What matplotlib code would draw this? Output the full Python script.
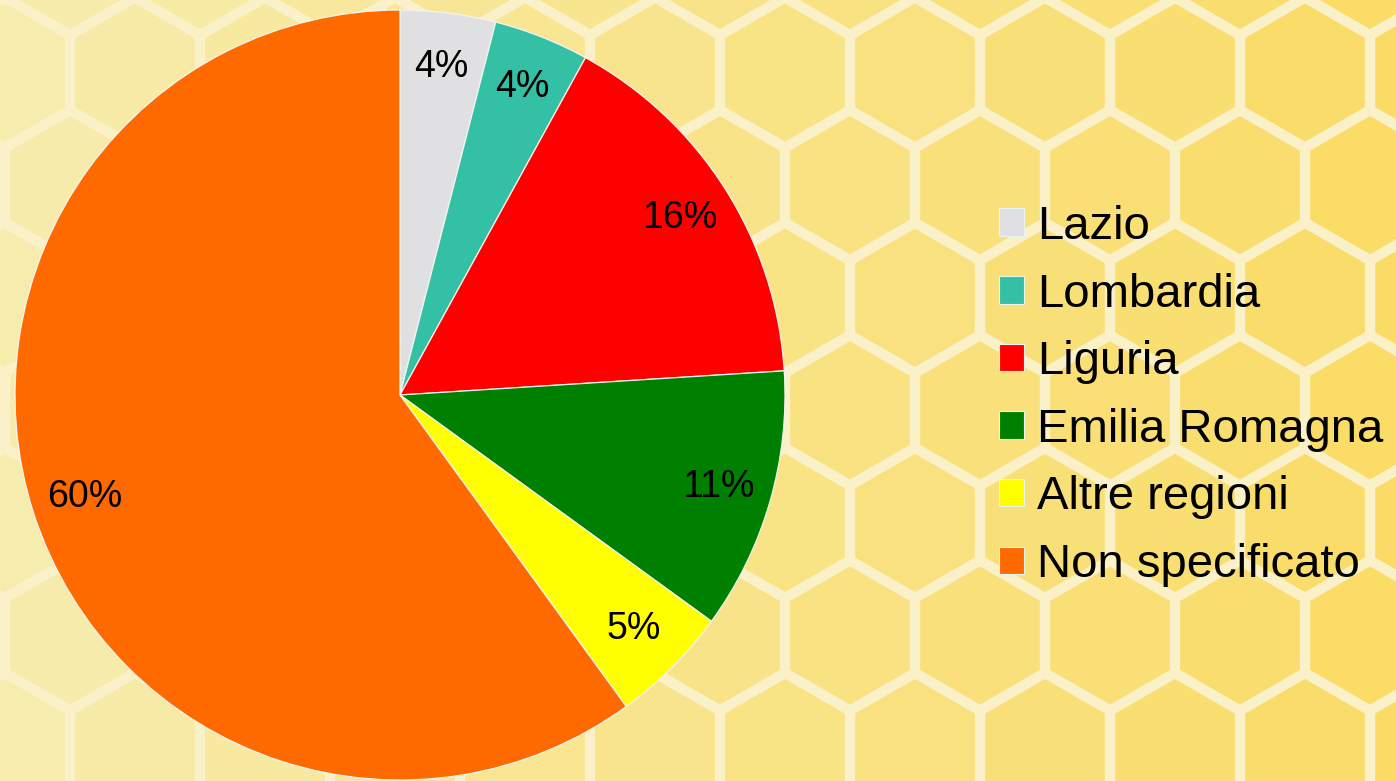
import numpy as np
import matplotlib.pyplot as plt
from matplotlib.patches import Patch, RegularPolygon

plt.rcParams["font.family"] = ["Liberation Sans", "DejaVu Sans"]

regioni = ["Lazio", "Lombardia", "Liguria", "Emilia Romagna", "Altre regioni", "Non specificato"]
percentuali = [4, 4, 16, 11, 5, 60]
colori = ["#e0e0e2", "#33c0a4", "#ff0000", "#008000", "#ffff00", "#ff6a00"]

W, H = 1396, 781
fig = plt.figure(figsize=(W / 100, H / 100), dpi=100, facecolor="#fbeeb8")

# sfondo a nido d'ape (solo decorativo)
bg = fig.add_axes([0, 0, 1, 1])
bg.set_xlim(0, W)
bg.set_ylim(H, 0)
bg.axis("off")
bg.add_patch(plt.Rectangle((0, 0), W, H, color="#fbf1c8", zorder=0))
passo = 130
raggio = passo / np.sqrt(3)
riga = 0
y = -40
while y < H + 100:
    x0 = -60 + (passo / 2 if riga % 2 else 0)
    x = x0
    while x < W + 100:
        t = min(max(x / W, 0), 1)
        c1 = np.array([0.965, 0.925, 0.68])
        c2 = np.array([0.98, 0.86, 0.40])
        col = c1 * (1 - t) + c2 * t
        bg.add_patch(RegularPolygon((x, y), 6, radius=raggio - 6, orientation=0,
                                    facecolor=col, edgecolor="none", zorder=1))
        x += passo
    y += raggio * 1.5
    riga += 1

# torta
cx, cy, r = 400, 395, 385
ax = fig.add_axes([(cx - r) / W, (H - cy - r) / H, 2 * r / W, 2 * r / H])
wedges, testi, autotesti = ax.pie(
    percentuali,
    colors=colori,
    startangle=90,
    counterclock=False,
    radius=1,
    autopct="%1.0f%%",
    pctdistance=0.86,
    wedgeprops=dict(edgecolor="#f4f4f0", linewidth=0.9),
    textprops=dict(fontsize=27, color="black"),
)
ax.set_xlim(-1, 1)
ax.set_ylim(-1, 1)
ax.set_aspect("equal")
ax.axis("off")

handles = [Patch(facecolor=c, edgecolor="#e8f4f0", linewidth=0.8) for c in colori]
fig.legend(
    handles,
    regioni,
    loc="center left",
    bbox_to_anchor=(999 / W, 1 - 396 / H),
    frameon=False,
    fontsize=34,
    handlelength=0.52,
    handleheight=0.52,
    handletextpad=0.28,
    labelspacing=0.5,
    borderaxespad=0,
    borderpad=0,
)

fig.savefig("out.png", dpi=100, facecolor=fig.get_facecolor())
